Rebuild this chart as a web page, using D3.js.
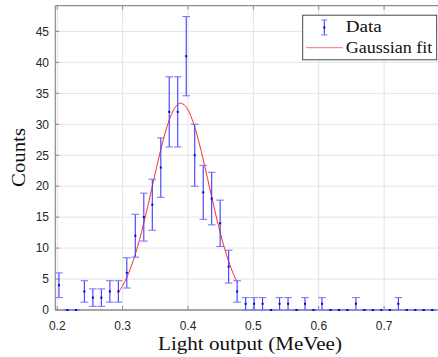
<!DOCTYPE html>
<html>
<head>
<meta charset="utf-8">
<script src="https://cdn.jsdelivr.net/npm/d3@7"></script>
<style>
  html, body { margin: 0; padding: 0; background: #fff; }
  svg { display: block; }
</style>
</head>
<body>
<svg id="svg" width="438" height="357"></svg>
<script>
// bin centres (MeVee) and counts
const binX = [0.2026, 0.2156, 0.2286, 0.2415, 0.2545, 0.2675, 0.2805, 0.2935, 0.3064, 0.3194,
  0.3324, 0.3454, 0.3584, 0.3713, 0.3843, 0.3973, 0.4103, 0.4233, 0.4362, 0.4492,
  0.4622, 0.4752, 0.4882, 0.5011, 0.5141, 0.5271, 0.5401, 0.5531, 0.5660, 0.5790,
  0.5920, 0.6050, 0.6180, 0.6309, 0.6439, 0.6569, 0.6699, 0.6829, 0.6958, 0.7088,
  0.7218, 0.7348, 0.7478, 0.7607, 0.7737];
const counts = [4, 0, 0, 3, 2, 2, 3, 3, 6, 12,
  15, 17, 23, 32, 32, 41, 25, 19, 18, 14,
  7, 3, 1, 1, 1, 0, 1, 1, 0, 1,
  0, 1, 0, 0, 0, 1, 0, 0, 0, 0,
  1, 0, 0, 0, 0];
const errs = [2, 0, 0, 1.73, 1.41, 1.41, 1.73, 1.73, 2.45, 3.46,
  3.87, 4.12, 4.80, 5.66, 5.66, 6.40, 5.00, 4.36, 4.24, 3.74,
  2.65, 1.73, 1, 1, 1, 0, 1, 1, 0, 1,
  0, 1, 0, 0, 0, 1, 0, 0, 0, 0,
  1, 0, 0, 0, 0];

// gaussian fit curve, sampled
const fitX = [0.294, 0.300, 0.3065, 0.313, 0.3195, 0.326, 0.3325, 0.339, 0.3455, 0.352,
  0.3585, 0.365, 0.3715, 0.378, 0.3845, 0.389, 0.391, 0.3975, 0.404, 0.4105,
  0.417, 0.4235, 0.430, 0.4365, 0.443, 0.4495, 0.456, 0.4625, 0.469, 0.4755];
const fitY = [2.91, 3.92, 5.30, 7.00, 9.05, 11.42, 14.09, 16.99, 20.02, 23.07,
  25.97, 28.58, 30.74, 32.32, 33.22, 33.4, 33.36, 32.75, 31.43, 29.48,
  27.02, 24.21, 21.20, 18.15, 15.18, 12.41, 9.92, 7.75, 5.92, 4.42];

const xTicks = [0.2, 0.3, 0.4, 0.5, 0.6, 0.7];
const yTicks = [0, 5, 10, 15, 20, 25, 30, 35, 40, 45];

const svg = d3.select('#svg');
const L = 55.3, R = 442, T = 5.7, B = 310;

const x = d3.scaleLinear().domain([0.197, 0.7886]).range([L, R]);
const y = d3.scaleLinear().domain([0, 49.15]).range([B, T]);

const sans = 'Liberation Sans, Arial, sans-serif';
const serif = 'Liberation Serif, Times New Roman, serif';

// grid
svg.append('g').selectAll('line').data(xTicks).join('line')
  .attr('x1', d => x(d)).attr('x2', d => x(d)).attr('y1', T).attr('y2', B)
  .attr('stroke', '#e3e3e3').attr('stroke-width', 1);
svg.append('g').selectAll('line').data(yTicks).join('line')
  .attr('x1', L).attr('x2', R).attr('y1', d => y(d)).attr('y2', d => y(d))
  .attr('stroke', '#e3e3e3').attr('stroke-width', 1);

// axes (MATLAB style box, inward ticks)
const ax = svg.append('g').attr('stroke', '#8c8c8c').attr('fill', 'none');
ax.append('line').attr('x1', L).attr('x2', R).attr('y1', T).attr('y2', T).attr('stroke-width', 1.2);
ax.append('line').attr('x1', L).attr('x2', L).attr('y1', T).attr('y2', B).attr('stroke-width', 1.2);
ax.append('line').attr('x1', L).attr('x2', R).attr('y1', B).attr('y2', B).attr('stroke-width', 1.6);
ax.selectAll('.tb').data(xTicks).join('line').attr('class', 'tb')
  .attr('x1', d => x(d)).attr('x2', d => x(d)).attr('y1', B).attr('y2', B - 4);
ax.selectAll('.tt').data(xTicks).join('line').attr('class', 'tt')
  .attr('x1', d => x(d)).attr('x2', d => x(d)).attr('y1', T).attr('y2', T + 4);
ax.selectAll('.tl').data(yTicks).join('line').attr('class', 'tl')
  .attr('x1', L).attr('x2', L + 4).attr('y1', d => y(d)).attr('y2', d => y(d));

svg.append('g').selectAll('text').data(xTicks).join('text')
  .attr('x', d => x(d)).attr('y', 329.5).attr('text-anchor', 'middle')
  .attr('font-family', sans).attr('font-size', 12).attr('fill', '#262626')
  .text(d => d3.format('.1f')(d));
svg.append('g').selectAll('text').data(yTicks).join('text')
  .attr('x', 49).attr('y', d => y(d)).attr('dy', '0.36em').attr('text-anchor', 'end')
  .attr('font-family', sans).attr('font-size', 12).attr('fill', '#262626')
  .text(d => d);

// fit line
svg.append('path')
  .datum(fitX.map((v, i) => [v, fitY[i]]))
  .attr('fill', 'none').attr('stroke', '#ff2a2a').attr('stroke-width', 1)
  .attr('d', d3.line().x(d => x(d[0])).y(d => y(d[1])).curve(d3.curveCatmullRom));

// error bars
const pts = binX.map((v, i) => ({ x: v, c: counts[i], e: errs[i] }));
const eb = svg.append('g').attr('stroke', '#3d3dff').attr('stroke-width', 1.1);
const cw = 3.8;
eb.selectAll('.v').data(pts.filter(d => d.e > 0)).join('line').attr('class', 'v')
  .attr('x1', d => x(d.x)).attr('x2', d => x(d.x))
  .attr('y1', d => y(d.c - d.e)).attr('y2', d => y(d.c + d.e));
eb.selectAll('.ct').data(pts).join('line').attr('class', 'ct')
  .attr('x1', d => x(d.x) - cw).attr('x2', d => x(d.x) + cw)
  .attr('y1', d => y(d.c + d.e)).attr('y2', d => y(d.c + d.e))
  .attr('stroke', '#7a7aff');
eb.selectAll('.cb').data(pts).join('line').attr('class', 'cb')
  .attr('x1', d => x(d.x) - cw).attr('x2', d => x(d.x) + cw)
  .attr('y1', d => y(d.c - d.e)).attr('y2', d => y(d.c - d.e))
  .attr('stroke', '#7a7aff');
svg.append('g').selectAll('rect').data(pts).join('rect')
  .attr('x', d => x(d.x) - 1).attr('y', d => y(d.c) - 1)
  .attr('width', 2).attr('height', 2).attr('fill', '#0000d0');

// legend
const lg = svg.append('g');
lg.append('rect').attr('x', 302.7).attr('y', 15.2).attr('width', 134).attr('height', 44.6)
  .attr('fill', '#fff').attr('stroke', '#333').attr('stroke-width', 0.9);
lg.append('line').attr('x1', 324.3).attr('x2', 324.3).attr('y1', 20).attr('y2', 35)
  .attr('stroke', '#3d3dff').attr('stroke-width', 1.1);
[20, 35].forEach(v => lg.append('line').attr('x1', 321.3).attr('x2', 327.3)
  .attr('y1', v).attr('y2', v).attr('stroke', '#7a7aff').attr('stroke-width', 1.1));
lg.append('rect').attr('x', 323.3).attr('y', 26.5).attr('width', 2).attr('height', 2).attr('fill', '#0000d0');
lg.append('line').attr('x1', 306).attr('x2', 342.7).attr('y1', 47.7).attr('y2', 47.7)
  .attr('stroke', '#ff8a8a').attr('stroke-width', 1.2);
lg.append('text').attr('x', 345.7).attr('y', 31.5).attr('font-family', serif).attr('font-size', 16)
  .attr('fill', '#111').attr('textLength', 36).attr('lengthAdjust', 'spacingAndGlyphs').text('Data');
lg.append('text').attr('x', 345.7).attr('y', 52.5).attr('font-family', serif).attr('font-size', 16)
  .attr('fill', '#111').attr('textLength', 86.6).attr('lengthAdjust', 'spacingAndGlyphs').text('Gaussian fit');

// axis labels
svg.append('text').attr('x', 250).attr('y', 349.5).attr('text-anchor', 'middle')
  .attr('font-family', serif).attr('font-size', 19).attr('fill', '#111')
  .attr('textLength', 184).attr('lengthAdjust', 'spacingAndGlyphs')
  .text('Light output (MeVee)');
svg.append('text').attr('transform', 'translate(25,157.5) rotate(-90)').attr('text-anchor', 'middle')
  .attr('font-family', serif).attr('font-size', 19).attr('fill', '#111')
  .attr('textLength', 59).attr('lengthAdjust', 'spacingAndGlyphs')
  .text('Counts');
</script>
</body>
</html>
